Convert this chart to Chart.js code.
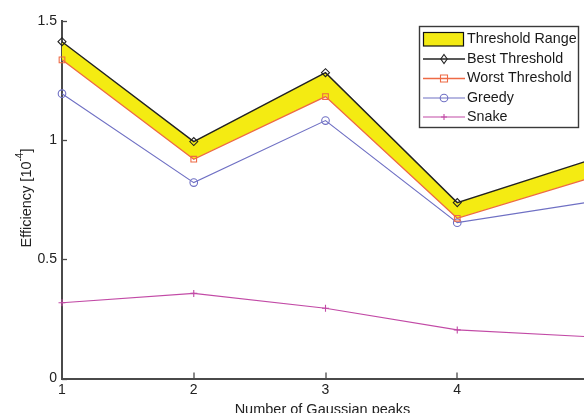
<!DOCTYPE html>
<html>
<head>
<meta charset="utf-8">
<script src="https://cdn.jsdelivr.net/npm/chart.js@4/dist/chart.umd.min.js"></script>
<style>
  html, body { margin: 0; padding: 0; background: #fff; overflow: hidden; }
  #wrap { position: relative; width: 584px; height: 413px; overflow: hidden; }
  #c { position: absolute; left: 0; top: 0; }
</style>
</head>
<body>
<div id="wrap"><canvas id="c" width="600" height="413"></canvas></div>
<script>
// Number of Gaussian peaks
const peaks = [1, 2, 3, 4, 5];
// Efficiency in units of 1e-4
const bestThreshold  = [1.413, 0.994, 1.283, 0.738, 0.915];
const worstThreshold = [1.337, 0.920, 1.183, 0.672, 0.840];
const greedy         = [1.195, 0.822, 1.082, 0.654, 0.740];
const snake          = [0.318, 0.357, 0.295, 0.204, 0.175];
const yTicks = [0, 0.5, 1, 1.5];
const xTicks = [1, 2, 3, 4, 5];

const FONT = '"Liberation Sans", Arial, sans-serif';
const AXIS = '#4a4a4a';

const series = [
  { label: 'Best Threshold',  data: bestThreshold,  color: '#222222', marker: 'diamond', width: 1.4 },
  { label: 'Worst Threshold', data: worstThreshold, color: '#ee6a45', marker: 'square',  width: 1.3 },
  { label: 'Greedy',          data: greedy,         color: '#6f70c4', marker: 'circle',  width: 1.1 },
  { label: 'Snake',           data: snake,          color: '#c24aa6', marker: 'plus',    width: 1.1 }
];
const pointStyleOf = { diamond: 'rectRot', square: 'rect', circle: 'circle', plus: 'cross' };

function drawMarker(ctx, kind, x, y, color) {
  ctx.save();
  ctx.strokeStyle = color;
  ctx.lineWidth = 1.1;
  ctx.beginPath();
  if (kind === 'diamond') {
    ctx.moveTo(x, y - 4.5); ctx.lineTo(x + 3.2, y); ctx.lineTo(x, y + 4.5); ctx.lineTo(x - 3.2, y); ctx.closePath();
  } else if (kind === 'square') {
    ctx.rect(x - 3.5, y - 3.5, 7, 7);
  } else if (kind === 'circle') {
    ctx.arc(x, y, 3.8, 0, Math.PI * 2);
  } else {
    ctx.moveTo(x - 3, y); ctx.lineTo(x + 3, y); ctx.moveTo(x, y - 3); ctx.lineTo(x, y + 3);
  }
  ctx.stroke();
  ctx.restore();
}

// Inward tick marks, axis titles and the boxed legend inside the plot
const decorations = {
  id: 'decorations',
  afterDraw(chart) {
    const ctx = chart.ctx;
    const xs = chart.scales.x, ys = chart.scales.y;
    const area = chart.chartArea;
    ctx.save();
    ctx.strokeStyle = AXIS;
    ctx.lineWidth = 1.3;
    yTicks.forEach(v => {
      const py = Math.round(ys.getPixelForValue(v)) + 0.5;
      ctx.beginPath(); ctx.moveTo(area.left, py); ctx.lineTo(area.left + 5, py); ctx.stroke();
    });
    xTicks.forEach(v => {
      const px = Math.round(xs.getPixelForValue(v));
      ctx.beginPath(); ctx.moveTo(px, area.bottom); ctx.lineTo(px, area.bottom - 6); ctx.stroke();
    });

    // x title
    ctx.fillStyle = '#222';
    ctx.font = '14.5px ' + FONT;
    ctx.textAlign = 'center';
    ctx.textBaseline = 'alphabetic';
    ctx.fillText('Number of Gaussian peaks', (area.left + area.right) / 2 - 3, 414);

    // y title with superscript exponent
    ctx.save();
    ctx.translate(31, 198);
    ctx.rotate(-Math.PI / 2);
    const main = 'Efficiency [10', sup = '-4', close = ']';
    ctx.font = '14.5px ' + FONT;
    const w1 = ctx.measureText(main).width, w3 = ctx.measureText(close).width;
    ctx.font = '10px ' + FONT;
    const w2 = ctx.measureText(sup).width;
    let x0 = -(w1 + w2 + w3) / 2;
    ctx.textAlign = 'left';
    ctx.font = '14.5px ' + FONT;
    ctx.fillText(main, x0, 0);
    ctx.font = '10px ' + FONT;
    ctx.fillText(sup, x0 + w1, -8);
    ctx.font = '14.5px ' + FONT;
    ctx.fillText(close, x0 + w1 + w2, 0);
    ctx.restore();

    // legend
    const lx = 419.5, ly = 26.5, lw = 159, lh = 101;
    ctx.fillStyle = '#fff';
    ctx.fillRect(lx, ly, lw, lh);
    ctx.strokeStyle = '#3a3a3a';
    ctx.lineWidth = 1.4;
    ctx.strokeRect(lx, ly, lw, lh);
    const rows = [39, 59, 78.5, 98, 117];
    const sx0 = 423, sx1 = 465, tx = 467;
    ctx.fillStyle = '#f3ea14';
    ctx.fillRect(423, 32.5, 40, 13.5);
    ctx.strokeStyle = '#111';
    ctx.lineWidth = 1.2;
    ctx.strokeRect(423.5, 32.5, 40, 13.5);
    ctx.font = '14.3px ' + FONT;
    ctx.textAlign = 'left';
    ctx.textBaseline = 'middle';
    ctx.fillStyle = '#1a1a1a';
    ctx.fillText('Threshold Range', tx, rows[0]);
    series.forEach((s, i) => {
      const y = rows[i + 1];
      ctx.strokeStyle = s.color;
      ctx.lineWidth = s.width;
      ctx.beginPath(); ctx.moveTo(sx0, y); ctx.lineTo(sx1, y); ctx.stroke();
      drawMarker(ctx, s.marker, (sx0 + sx1) / 2, y, s.color);
      ctx.fillStyle = '#1a1a1a';
      ctx.fillText(s.label, tx, y);
    });
    ctx.restore();
  }
};

const datasets = [
  {
    label: 'Threshold Range',
    data: bestThreshold,
    borderWidth: 0,
    pointRadius: 0,
    backgroundColor: '#f4eb12',
    fill: 2
  }
].concat(series.map(s => ({
  label: s.label,
  data: s.data,
  borderColor: s.color,
  borderWidth: s.width,
  backgroundColor: 'rgba(0,0,0,0)',
  pointStyle: pointStyleOf[s.marker],
  pointRadius: s.marker === 'circle' ? 3.8 : (s.marker === 'plus' ? 3.5 : 4),
  pointBorderColor: s.color,
  pointBorderWidth: 1.1,
  pointBackgroundColor: 'rgba(0,0,0,0)',
  fill: false,
  tension: 0
})));

new Chart(document.getElementById('c'), {
  type: 'line',
  data: { labels: peaks, datasets },
  options: {
    responsive: false,
    animation: false,
    devicePixelRatio: 1,
    layout: { padding: { top: 21, right: 11, left: 0, bottom: 0 } },
    plugins: {
      legend: { display: false },
      tooltip: { enabled: false },
      filler: { drawTime: 'beforeDatasetsDraw' }
    },
    scales: {
      x: {
        type: 'category',
        offset: false,
        grid: { display: false, drawTicks: false },
        border: { display: true, color: AXIS, width: 2 },
        ticks: { color: '#222', font: { family: FONT, size: 14 }, padding: 3, maxRotation: 0, autoSkip: false },
        afterFit(scale) { scale.height = 34.5; }
      },
      y: {
        min: 0, max: 1.5,
        grid: { display: false, drawTicks: false },
        border: { display: true, color: AXIS, width: 2 },
        ticks: { color: '#222', font: { family: FONT, size: 14 }, padding: 5, callback: v => String(v) },
        afterBuildTicks(scale) { scale.ticks = yTicks.map(v => ({ value: v })); },
        afterFit(scale) { scale.width = 62; }
      }
    }
  },
  plugins: [decorations]
});
</script>
</body>
</html>
